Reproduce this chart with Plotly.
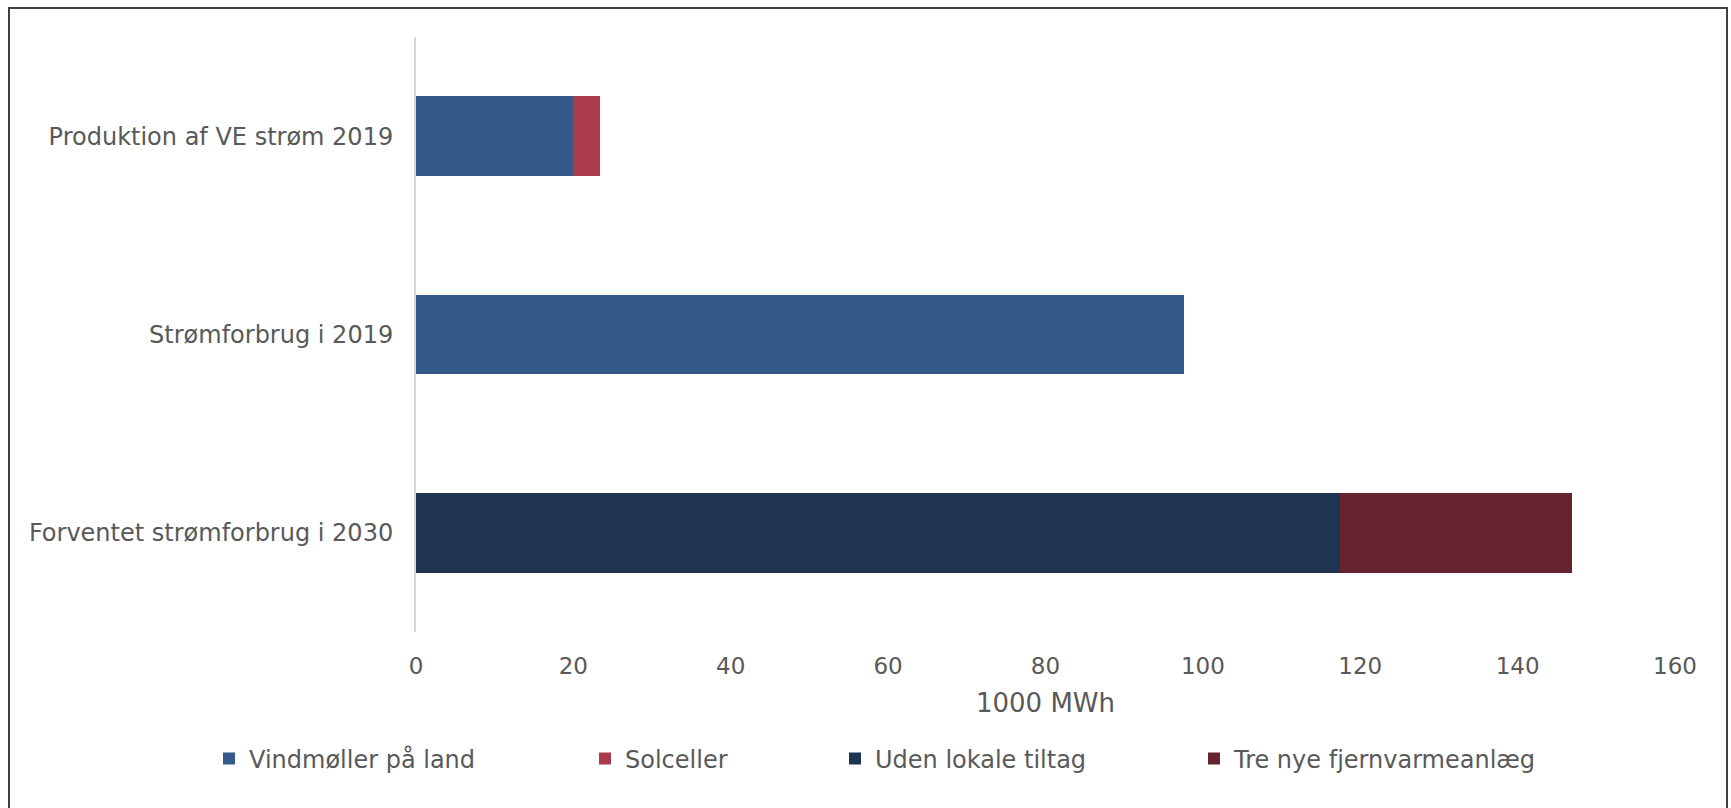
import plotly.graph_objects as go

categories = ["Produktion af VE strøm 2019", "Strømforbrug i 2019", "Forventet strømforbrug i 2030"]
series_names = ["Vindmøller på land", "Solceller", "Uden lokale tiltag", "Tre nye fjernvarmeanlæg"]
vindmoeller = [20.0, 97.6, 0]
solceller = [3.4, 0, 0]
uden_tiltag = [0, 0, 117.4]
tre_nye = [0, 0, 29.5]
x_ticks = [0, 20, 40, 60, 80, 100, 120, 140, 160]
x_title = "1000 MWh"

colors = ["#335A89", "#AA3A4C", "#1F3451", "#67242F"]
values = [vindmoeller, solceller, uden_tiltag, tre_nye]

W, H = 1731, 808
L, R = 416, 1675
T, B = 37, 632
pw, ph = R - L, B - T

def px_to_paper_x(px):
    return (px - L) / pw

def px_to_paper_y(py):
    return (B - py) / ph

text_color = "#595959"
font_family = "DejaVu Sans, Verdana, sans-serif"

fig = go.Figure()
legend_names = ["legend", "legend2", "legend3", "legend4"]
for name, vals, col, lg in zip(series_names, values, colors, legend_names):
    fig.add_trace(go.Bar(
        y=categories, x=vals, name=name, orientation="h",
        marker=dict(color=col, line=dict(width=0)),
        legend=lg,
    ))

text_starts = [245, 621, 871, 1230]
legend_layout = {}
for lg, ts in zip(legend_names, text_starts):
    legend_layout[lg] = dict(
        x=px_to_paper_x(ts - 36), xanchor="left",
        y=px_to_paper_y(759), yanchor="middle",
        orientation="h",
        font=dict(size=24, color=text_color, family=font_family),
        bgcolor="rgba(0,0,0,0)", borderwidth=0,
    )

fig.update_layout(
    width=W, height=H,
    margin=dict(l=L, r=W - R, t=T, b=H - B, autoexpand=False),
    paper_bgcolor="white", plot_bgcolor="white",
    barmode="stack", bargap=0.597,
    font=dict(family=font_family, color=text_color, size=24),
    showlegend=True,
    xaxis=dict(
        range=[0, 160], tickvals=x_ticks, ticktext=[str(v) for v in x_ticks],
        showgrid=False, zeroline=False, showline=False, ticks="",
        tickfont=dict(size=23, color=text_color),
        ticklabelstandoff=18,
        title=dict(text=x_title, font=dict(size=26, color=text_color), standoff=15),
        automargin=False,
    ),
    yaxis=dict(
        categoryorder="array", categoryarray=categories, autorange="reversed",
        showgrid=False, zeroline=False, showline=True, linecolor="#D9D9D9", linewidth=2,
        ticks="", tickfont=dict(size=24, color=text_color),
        ticklabelstandoff=16, automargin=False,
    ),
    shapes=[dict(
        type="rect", xref="paper", yref="paper",
        x0=px_to_paper_x(9), x1=px_to_paper_x(1727),
        y0=px_to_paper_y(830), y1=px_to_paper_y(8),
        line=dict(color="#404040", width=2), fillcolor="rgba(0,0,0,0)", layer="above",
    )],
    **legend_layout,
)

fig.write_html("out.html")
